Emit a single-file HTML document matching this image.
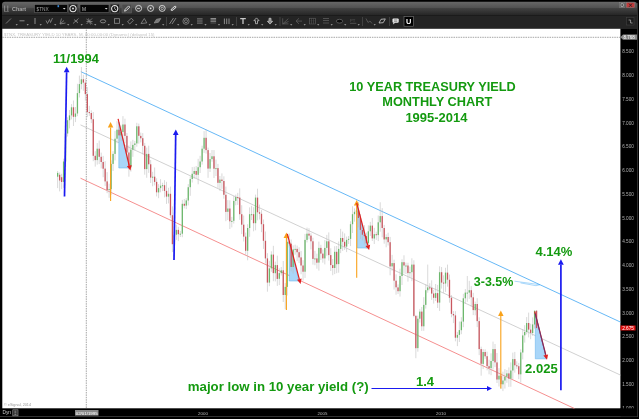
<!DOCTYPE html>
<html><head><meta charset="utf-8"><title>10 Year Treasury Yield Monthly Chart</title>
<style>html,body{margin:0;padding:0;background:#000;}body{width:639px;height:419px;overflow:hidden;position:relative;font-family:"Liberation Sans",Arial,sans-serif}</style>
</head><body>
<svg width="639" height="419" viewBox="0 0 639 419" style="position:absolute;left:0;top:0">
<defs>
<linearGradient id="tb" x1="0" y1="0" x2="0" y2="1"><stop offset="0" stop-color="#686868"/><stop offset="0.43" stop-color="#525252"/><stop offset="0.47" stop-color="#424242"/><stop offset="1" stop-color="#252525"/></linearGradient>
</defs>
<rect x="0" y="0" width="639" height="419" fill="#000"/>
<path d="M2 15.3 L2 4.7 Q2 1.7 5 1.7 L634 1.7 Q637 1.7 637 4.7 L637 15.3 Z" fill="url(#tb)"/>
<rect x="2" y="15.3" width="635" height="13.7" fill="#242424"/>
<rect x="2.3" y="28.8" width="618.1" height="379.5" fill="#fff"/>
<rect x="0" y="416.3" width="637.8" height="0.7" fill="#4a4a4a"/>
<rect x="637.2" y="3" width="0.7" height="414" fill="#444"/>
<line x1="2.3" y1="37.3" x2="620" y2="37.3" stroke="#6a6a6a" stroke-width="0.6" stroke-dasharray="1.5 0.9"/>
<line x1="86.3" y1="29.6" x2="86.3" y2="408.5" stroke="#6a6a6a" stroke-width="0.6" stroke-dasharray="1.5 0.9"/>
<line x1="80.9" y1="71.7" x2="620.5" y2="322.1" stroke="#55b0f5" stroke-width="0.9"/>
<line x1="80.5" y1="124.9" x2="620.5" y2="375.1" stroke="#bdbdbd" stroke-width="0.7"/>
<line x1="80.5" y1="178.2" x2="574.4" y2="408.5" stroke="#f26a6a" stroke-width="0.75"/>
<polygon points="118.8,122 118.8,168 129.8,168" fill="#a9d6f9" stroke="#5aaeea" stroke-width="0.5"/>
<polygon points="289.2,241 289.2,281 299,281" fill="#a9d6f9" stroke="#5aaeea" stroke-width="0.5"/>
<polygon points="357.4,206 357.4,248 368,248" fill="#a9d6f9" stroke="#5aaeea" stroke-width="0.5"/>
<polygon points="535.3,314 535.3,358.8 546.3,358.8" fill="#a9d6f9" stroke="#5aaeea" stroke-width="0.5"/>
<line x1="57.65" y1="171.0" x2="57.65" y2="188.1" stroke="#c0c0c0" stroke-width="0.6"/>
<rect x="57.00" y="172.9" width="1.3" height="3.8" fill="#6db86d"/>
<line x1="59.63" y1="172.4" x2="59.63" y2="191.4" stroke="#c0c0c0" stroke-width="0.6"/>
<rect x="58.98" y="174.8" width="1.3" height="5.7" fill="#c9575f"/>
<line x1="61.61" y1="173.8" x2="61.61" y2="189.1" stroke="#c0c0c0" stroke-width="0.6"/>
<rect x="60.96" y="177.2" width="1.3" height="4.8" fill="#c9575f"/>
<line x1="63.59" y1="158.7" x2="63.59" y2="187.9" stroke="#c0c0c0" stroke-width="0.6"/>
<rect x="62.94" y="161.5" width="1.3" height="20.4" fill="#6db86d"/>
<line x1="65.57" y1="130.8" x2="65.57" y2="167.0" stroke="#c0c0c0" stroke-width="0.6"/>
<rect x="64.92" y="133.5" width="1.3" height="28.0" fill="#6db86d"/>
<line x1="67.55" y1="117.3" x2="67.55" y2="136.5" stroke="#c0c0c0" stroke-width="0.6"/>
<rect x="66.90" y="120.2" width="1.3" height="13.3" fill="#6db86d"/>
<line x1="69.53" y1="110.0" x2="69.53" y2="128.4" stroke="#c0c0c0" stroke-width="0.6"/>
<rect x="68.88" y="115.4" width="1.3" height="4.8" fill="#6db86d"/>
<line x1="71.51" y1="104.1" x2="71.51" y2="119.4" stroke="#c0c0c0" stroke-width="0.6"/>
<rect x="70.86" y="107.3" width="1.3" height="8.1" fill="#6db86d"/>
<line x1="73.48" y1="100.5" x2="73.48" y2="126.0" stroke="#c0c0c0" stroke-width="0.6"/>
<rect x="72.83" y="107.3" width="1.3" height="9.5" fill="#c9575f"/>
<line x1="75.46" y1="107.0" x2="75.46" y2="122.1" stroke="#c0c0c0" stroke-width="0.6"/>
<rect x="74.81" y="113.5" width="1.3" height="3.3" fill="#6db86d"/>
<line x1="77.44" y1="83.8" x2="77.44" y2="116.2" stroke="#c0c0c0" stroke-width="0.6"/>
<rect x="76.79" y="93.1" width="1.3" height="20.4" fill="#6db86d"/>
<line x1="79.42" y1="75.6" x2="79.42" y2="97.5" stroke="#c0c0c0" stroke-width="0.6"/>
<rect x="78.77" y="84.1" width="1.3" height="9.0" fill="#6db86d"/>
<line x1="81.40" y1="67.0" x2="81.40" y2="89.3" stroke="#c0c0c0" stroke-width="0.6"/>
<rect x="80.75" y="79.3" width="1.3" height="4.8" fill="#6db86d"/>
<line x1="83.38" y1="74.8" x2="83.38" y2="90.8" stroke="#c0c0c0" stroke-width="0.6"/>
<rect x="82.73" y="79.3" width="1.3" height="3.3" fill="#c9575f"/>
<line x1="85.36" y1="79.0" x2="85.36" y2="100.6" stroke="#c0c0c0" stroke-width="0.6"/>
<rect x="84.71" y="82.7" width="1.3" height="11.4" fill="#c9575f"/>
<line x1="87.34" y1="87.1" x2="87.34" y2="117.1" stroke="#c0c0c0" stroke-width="0.6"/>
<rect x="86.69" y="94.1" width="1.3" height="18.0" fill="#c9575f"/>
<line x1="89.32" y1="105.8" x2="89.32" y2="115.9" stroke="#c0c0c0" stroke-width="0.6"/>
<rect x="88.67" y="112.1" width="1.3" height="1.0" fill="#c9575f"/>
<line x1="91.30" y1="110.3" x2="91.30" y2="123.1" stroke="#c0c0c0" stroke-width="0.6"/>
<rect x="90.64" y="113.0" width="1.3" height="6.2" fill="#c9575f"/>
<line x1="93.27" y1="112.0" x2="93.27" y2="161.2" stroke="#c0c0c0" stroke-width="0.6"/>
<rect x="92.62" y="119.2" width="1.3" height="36.6" fill="#c9575f"/>
<line x1="95.25" y1="151.2" x2="95.25" y2="166.6" stroke="#c0c0c0" stroke-width="0.6"/>
<rect x="94.60" y="155.8" width="1.3" height="4.3" fill="#c9575f"/>
<line x1="97.23" y1="143.1" x2="97.23" y2="164.6" stroke="#c0c0c0" stroke-width="0.6"/>
<rect x="96.58" y="148.7" width="1.3" height="11.4" fill="#6db86d"/>
<line x1="99.21" y1="140.6" x2="99.21" y2="164.1" stroke="#c0c0c0" stroke-width="0.6"/>
<rect x="98.56" y="148.7" width="1.3" height="8.1" fill="#c9575f"/>
<line x1="101.19" y1="152.6" x2="101.19" y2="168.4" stroke="#c0c0c0" stroke-width="0.6"/>
<rect x="100.54" y="156.8" width="1.3" height="5.2" fill="#c9575f"/>
<line x1="103.17" y1="155.9" x2="103.17" y2="177.2" stroke="#c0c0c0" stroke-width="0.6"/>
<rect x="102.52" y="162.0" width="1.3" height="6.7" fill="#c9575f"/>
<line x1="105.15" y1="161.1" x2="105.15" y2="185.9" stroke="#c0c0c0" stroke-width="0.6"/>
<rect x="104.50" y="168.6" width="1.3" height="12.8" fill="#c9575f"/>
<line x1="107.13" y1="172.1" x2="107.13" y2="193.2" stroke="#c0c0c0" stroke-width="0.6"/>
<rect x="106.48" y="181.4" width="1.3" height="8.6" fill="#c9575f"/>
<line x1="109.11" y1="183.7" x2="109.11" y2="197.8" stroke="#c0c0c0" stroke-width="0.6"/>
<rect x="108.46" y="189.1" width="1.3" height="1.0" fill="#6db86d"/>
<line x1="111.09" y1="160.4" x2="111.09" y2="194.9" stroke="#c0c0c0" stroke-width="0.6"/>
<rect x="110.44" y="163.9" width="1.3" height="25.2" fill="#6db86d"/>
<line x1="113.06" y1="151.2" x2="113.06" y2="171.0" stroke="#c0c0c0" stroke-width="0.6"/>
<rect x="112.41" y="153.9" width="1.3" height="10.0" fill="#6db86d"/>
<line x1="115.04" y1="130.9" x2="115.04" y2="160.4" stroke="#c0c0c0" stroke-width="0.6"/>
<rect x="114.39" y="138.7" width="1.3" height="15.2" fill="#6db86d"/>
<line x1="117.02" y1="121.1" x2="117.02" y2="143.3" stroke="#c0c0c0" stroke-width="0.6"/>
<rect x="116.37" y="129.7" width="1.3" height="9.0" fill="#6db86d"/>
<line x1="119.00" y1="122.3" x2="119.00" y2="142.0" stroke="#c0c0c0" stroke-width="0.6"/>
<rect x="118.35" y="129.7" width="1.3" height="5.7" fill="#c9575f"/>
<line x1="120.98" y1="125.5" x2="120.98" y2="141.0" stroke="#c0c0c0" stroke-width="0.6"/>
<rect x="120.33" y="132.1" width="1.3" height="3.3" fill="#6db86d"/>
<line x1="122.96" y1="116.1" x2="122.96" y2="141.2" stroke="#c0c0c0" stroke-width="0.6"/>
<rect x="122.31" y="124.5" width="1.3" height="7.6" fill="#6db86d"/>
<line x1="124.94" y1="118.7" x2="124.94" y2="143.0" stroke="#c0c0c0" stroke-width="0.6"/>
<rect x="124.29" y="124.5" width="1.3" height="11.4" fill="#c9575f"/>
<line x1="126.92" y1="133.0" x2="126.92" y2="159.8" stroke="#c0c0c0" stroke-width="0.6"/>
<rect x="126.27" y="135.9" width="1.3" height="16.6" fill="#c9575f"/>
<line x1="128.90" y1="145.5" x2="128.90" y2="176.7" stroke="#c0c0c0" stroke-width="0.6"/>
<rect x="128.25" y="152.5" width="1.3" height="14.7" fill="#c9575f"/>
<line x1="130.88" y1="141.4" x2="130.88" y2="171.6" stroke="#c0c0c0" stroke-width="0.6"/>
<rect x="130.22" y="149.6" width="1.3" height="17.6" fill="#6db86d"/>
<line x1="132.85" y1="139.8" x2="132.85" y2="156.8" stroke="#c0c0c0" stroke-width="0.6"/>
<rect x="132.20" y="144.9" width="1.3" height="4.8" fill="#6db86d"/>
<line x1="134.83" y1="140.9" x2="134.83" y2="150.5" stroke="#c0c0c0" stroke-width="0.6"/>
<rect x="134.18" y="143.5" width="1.3" height="1.4" fill="#6db86d"/>
<line x1="136.81" y1="122.8" x2="136.81" y2="146.7" stroke="#c0c0c0" stroke-width="0.6"/>
<rect x="136.16" y="126.3" width="1.3" height="17.1" fill="#6db86d"/>
<line x1="138.79" y1="123.6" x2="138.79" y2="143.7" stroke="#c0c0c0" stroke-width="0.6"/>
<rect x="138.14" y="126.3" width="1.3" height="9.5" fill="#c9575f"/>
<line x1="140.77" y1="132.6" x2="140.77" y2="142.4" stroke="#c0c0c0" stroke-width="0.6"/>
<rect x="140.12" y="135.9" width="1.3" height="2.4" fill="#c9575f"/>
<line x1="142.75" y1="133.1" x2="142.75" y2="154.4" stroke="#c0c0c0" stroke-width="0.6"/>
<rect x="142.10" y="138.2" width="1.3" height="7.6" fill="#c9575f"/>
<line x1="144.73" y1="142.9" x2="144.73" y2="174.7" stroke="#c0c0c0" stroke-width="0.6"/>
<rect x="144.08" y="145.8" width="1.3" height="23.3" fill="#c9575f"/>
<line x1="146.71" y1="147.6" x2="146.71" y2="177.8" stroke="#c0c0c0" stroke-width="0.6"/>
<rect x="146.06" y="153.9" width="1.3" height="15.2" fill="#6db86d"/>
<line x1="148.69" y1="145.7" x2="148.69" y2="172.9" stroke="#c0c0c0" stroke-width="0.6"/>
<rect x="148.04" y="153.9" width="1.3" height="10.4" fill="#c9575f"/>
<line x1="150.67" y1="160.0" x2="150.67" y2="183.0" stroke="#c0c0c0" stroke-width="0.6"/>
<rect x="150.02" y="164.3" width="1.3" height="13.3" fill="#c9575f"/>
<line x1="152.64" y1="171.8" x2="152.64" y2="186.3" stroke="#c0c0c0" stroke-width="0.6"/>
<rect x="151.99" y="176.7" width="1.3" height="1.0" fill="#6db86d"/>
<line x1="154.62" y1="167.5" x2="154.62" y2="185.4" stroke="#c0c0c0" stroke-width="0.6"/>
<rect x="153.97" y="176.7" width="1.3" height="5.2" fill="#c9575f"/>
<line x1="156.60" y1="178.3" x2="156.60" y2="196.4" stroke="#c0c0c0" stroke-width="0.6"/>
<rect x="155.95" y="181.9" width="1.3" height="10.4" fill="#c9575f"/>
<line x1="158.58" y1="184.1" x2="158.58" y2="198.2" stroke="#c0c0c0" stroke-width="0.6"/>
<rect x="157.93" y="188.1" width="1.3" height="4.3" fill="#6db86d"/>
<line x1="160.56" y1="179.2" x2="160.56" y2="192.3" stroke="#c0c0c0" stroke-width="0.6"/>
<rect x="159.91" y="185.7" width="1.3" height="2.4" fill="#6db86d"/>
<line x1="162.54" y1="182.8" x2="162.54" y2="191.1" stroke="#c0c0c0" stroke-width="0.6"/>
<rect x="161.89" y="185.2" width="1.3" height="1.0" fill="#6db86d"/>
<line x1="164.52" y1="180.2" x2="164.52" y2="197.4" stroke="#c0c0c0" stroke-width="0.6"/>
<rect x="163.87" y="185.2" width="1.3" height="5.7" fill="#c9575f"/>
<line x1="166.50" y1="181.8" x2="166.50" y2="203.9" stroke="#c0c0c0" stroke-width="0.6"/>
<rect x="165.85" y="190.9" width="1.3" height="5.7" fill="#c9575f"/>
<line x1="168.48" y1="187.8" x2="168.48" y2="203.4" stroke="#c0c0c0" stroke-width="0.6"/>
<rect x="167.83" y="193.8" width="1.3" height="2.8" fill="#6db86d"/>
<line x1="170.46" y1="186.6" x2="170.46" y2="217.9" stroke="#c0c0c0" stroke-width="0.6"/>
<rect x="169.81" y="193.8" width="1.3" height="21.4" fill="#c9575f"/>
<line x1="172.43" y1="206.4" x2="172.43" y2="252.1" stroke="#c0c0c0" stroke-width="0.6"/>
<rect x="171.78" y="215.2" width="1.3" height="29.0" fill="#c9575f"/>
<line x1="174.41" y1="219.9" x2="174.41" y2="257.4" stroke="#c0c0c0" stroke-width="0.6"/>
<rect x="173.76" y="234.7" width="1.3" height="9.5" fill="#6db86d"/>
<line x1="176.39" y1="224.7" x2="176.39" y2="239.9" stroke="#c0c0c0" stroke-width="0.6"/>
<rect x="175.74" y="229.9" width="1.3" height="4.8" fill="#6db86d"/>
<line x1="178.37" y1="226.8" x2="178.37" y2="241.1" stroke="#c0c0c0" stroke-width="0.6"/>
<rect x="177.72" y="229.9" width="1.3" height="4.3" fill="#c9575f"/>
<line x1="180.35" y1="230.9" x2="180.35" y2="237.0" stroke="#c0c0c0" stroke-width="0.6"/>
<rect x="179.70" y="233.7" width="1.3" height="1.0" fill="#6db86d"/>
<line x1="182.33" y1="199.9" x2="182.33" y2="237.2" stroke="#c0c0c0" stroke-width="0.6"/>
<rect x="181.68" y="203.8" width="1.3" height="29.9" fill="#6db86d"/>
<line x1="184.31" y1="199.0" x2="184.31" y2="208.4" stroke="#c0c0c0" stroke-width="0.6"/>
<rect x="183.66" y="203.8" width="1.3" height="1.9" fill="#c9575f"/>
<line x1="186.29" y1="198.1" x2="186.29" y2="209.1" stroke="#c0c0c0" stroke-width="0.6"/>
<rect x="185.64" y="200.4" width="1.3" height="5.2" fill="#6db86d"/>
<line x1="188.27" y1="184.1" x2="188.27" y2="205.4" stroke="#c0c0c0" stroke-width="0.6"/>
<rect x="187.62" y="187.2" width="1.3" height="13.3" fill="#6db86d"/>
<line x1="190.25" y1="176.5" x2="190.25" y2="195.8" stroke="#c0c0c0" stroke-width="0.6"/>
<rect x="189.59" y="179.1" width="1.3" height="8.1" fill="#6db86d"/>
<line x1="192.22" y1="167.1" x2="192.22" y2="182.5" stroke="#c0c0c0" stroke-width="0.6"/>
<rect x="191.57" y="173.8" width="1.3" height="5.2" fill="#6db86d"/>
<line x1="194.20" y1="166.8" x2="194.20" y2="178.7" stroke="#c0c0c0" stroke-width="0.6"/>
<rect x="193.55" y="171.0" width="1.3" height="2.9" fill="#6db86d"/>
<line x1="196.18" y1="166.0" x2="196.18" y2="178.1" stroke="#c0c0c0" stroke-width="0.6"/>
<rect x="195.53" y="171.0" width="1.3" height="3.8" fill="#c9575f"/>
<line x1="198.16" y1="158.8" x2="198.16" y2="184.3" stroke="#c0c0c0" stroke-width="0.6"/>
<rect x="197.51" y="167.2" width="1.3" height="7.6" fill="#6db86d"/>
<line x1="200.14" y1="155.8" x2="200.14" y2="173.0" stroke="#c0c0c0" stroke-width="0.6"/>
<rect x="199.49" y="161.5" width="1.3" height="5.7" fill="#6db86d"/>
<line x1="202.12" y1="145.7" x2="202.12" y2="164.6" stroke="#c0c0c0" stroke-width="0.6"/>
<rect x="201.47" y="148.7" width="1.3" height="12.8" fill="#6db86d"/>
<line x1="204.10" y1="131.1" x2="204.10" y2="152.9" stroke="#c0c0c0" stroke-width="0.6"/>
<rect x="203.45" y="137.8" width="1.3" height="10.9" fill="#6db86d"/>
<line x1="206.08" y1="129.5" x2="206.08" y2="153.6" stroke="#c0c0c0" stroke-width="0.6"/>
<rect x="205.43" y="137.8" width="1.3" height="12.3" fill="#c9575f"/>
<line x1="208.06" y1="147.6" x2="208.06" y2="177.8" stroke="#c0c0c0" stroke-width="0.6"/>
<rect x="207.41" y="150.1" width="1.3" height="18.5" fill="#c9575f"/>
<line x1="210.04" y1="153.0" x2="210.04" y2="172.0" stroke="#c0c0c0" stroke-width="0.6"/>
<rect x="209.39" y="159.1" width="1.3" height="9.5" fill="#6db86d"/>
<line x1="212.01" y1="150.0" x2="212.01" y2="161.7" stroke="#c0c0c0" stroke-width="0.6"/>
<rect x="211.36" y="156.3" width="1.3" height="2.8" fill="#6db86d"/>
<line x1="213.99" y1="150.1" x2="213.99" y2="178.0" stroke="#c0c0c0" stroke-width="0.6"/>
<rect x="213.34" y="156.3" width="1.3" height="12.4" fill="#c9575f"/>
<line x1="215.97" y1="159.6" x2="215.97" y2="176.0" stroke="#c0c0c0" stroke-width="0.6"/>
<rect x="215.32" y="168.1" width="1.3" height="1.0" fill="#6db86d"/>
<line x1="217.95" y1="163.9" x2="217.95" y2="187.9" stroke="#c0c0c0" stroke-width="0.6"/>
<rect x="217.30" y="168.1" width="1.3" height="14.7" fill="#c9575f"/>
<line x1="219.93" y1="176.0" x2="219.93" y2="190.8" stroke="#c0c0c0" stroke-width="0.6"/>
<rect x="219.28" y="179.6" width="1.3" height="3.3" fill="#6db86d"/>
<line x1="221.91" y1="173.4" x2="221.91" y2="188.9" stroke="#c0c0c0" stroke-width="0.6"/>
<rect x="221.26" y="179.6" width="1.3" height="1.4" fill="#c9575f"/>
<line x1="223.89" y1="176.3" x2="223.89" y2="198.7" stroke="#c0c0c0" stroke-width="0.6"/>
<rect x="223.24" y="181.0" width="1.3" height="13.8" fill="#c9575f"/>
<line x1="225.87" y1="186.6" x2="225.87" y2="221.2" stroke="#c0c0c0" stroke-width="0.6"/>
<rect x="225.22" y="194.8" width="1.3" height="17.1" fill="#c9575f"/>
<line x1="227.85" y1="200.1" x2="227.85" y2="220.0" stroke="#c0c0c0" stroke-width="0.6"/>
<rect x="227.20" y="208.5" width="1.3" height="3.3" fill="#6db86d"/>
<line x1="229.83" y1="200.3" x2="229.83" y2="229.0" stroke="#c0c0c0" stroke-width="0.6"/>
<rect x="229.18" y="208.5" width="1.3" height="12.8" fill="#c9575f"/>
<line x1="231.80" y1="216.9" x2="231.80" y2="227.4" stroke="#c0c0c0" stroke-width="0.6"/>
<rect x="231.15" y="220.9" width="1.3" height="1.0" fill="#6db86d"/>
<line x1="233.78" y1="196.0" x2="233.78" y2="223.5" stroke="#c0c0c0" stroke-width="0.6"/>
<rect x="233.13" y="200.9" width="1.3" height="19.9" fill="#6db86d"/>
<line x1="235.76" y1="194.6" x2="235.76" y2="205.3" stroke="#c0c0c0" stroke-width="0.6"/>
<rect x="235.11" y="197.1" width="1.3" height="3.8" fill="#6db86d"/>
<line x1="237.74" y1="192.9" x2="237.74" y2="204.9" stroke="#c0c0c0" stroke-width="0.6"/>
<rect x="237.09" y="197.1" width="1.3" height="1.0" fill="#c9575f"/>
<line x1="239.72" y1="188.4" x2="239.72" y2="219.8" stroke="#c0c0c0" stroke-width="0.6"/>
<rect x="239.07" y="197.6" width="1.3" height="16.6" fill="#c9575f"/>
<line x1="241.70" y1="205.2" x2="241.70" y2="234.1" stroke="#c0c0c0" stroke-width="0.6"/>
<rect x="241.05" y="214.2" width="1.3" height="10.5" fill="#c9575f"/>
<line x1="243.68" y1="215.5" x2="243.68" y2="241.5" stroke="#c0c0c0" stroke-width="0.6"/>
<rect x="243.03" y="224.7" width="1.3" height="11.9" fill="#c9575f"/>
<line x1="245.66" y1="232.6" x2="245.66" y2="254.8" stroke="#c0c0c0" stroke-width="0.6"/>
<rect x="245.01" y="236.6" width="1.3" height="14.2" fill="#c9575f"/>
<line x1="247.64" y1="224.2" x2="247.64" y2="260.3" stroke="#c0c0c0" stroke-width="0.6"/>
<rect x="246.99" y="228.0" width="1.3" height="22.8" fill="#6db86d"/>
<line x1="249.62" y1="207.4" x2="249.62" y2="236.8" stroke="#c0c0c0" stroke-width="0.6"/>
<rect x="248.97" y="214.2" width="1.3" height="13.8" fill="#6db86d"/>
<line x1="251.59" y1="205.9" x2="251.59" y2="220.0" stroke="#c0c0c0" stroke-width="0.6"/>
<rect x="250.94" y="214.2" width="1.3" height="1.0" fill="#6db86d"/>
<line x1="253.57" y1="207.2" x2="253.57" y2="231.3" stroke="#c0c0c0" stroke-width="0.6"/>
<rect x="252.92" y="214.2" width="1.3" height="9.0" fill="#c9575f"/>
<line x1="255.55" y1="194.6" x2="255.55" y2="230.3" stroke="#c0c0c0" stroke-width="0.6"/>
<rect x="254.90" y="197.6" width="1.3" height="25.6" fill="#6db86d"/>
<line x1="257.53" y1="188.7" x2="257.53" y2="220.3" stroke="#c0c0c0" stroke-width="0.6"/>
<rect x="256.88" y="197.6" width="1.3" height="14.7" fill="#c9575f"/>
<line x1="259.51" y1="204.6" x2="259.51" y2="219.5" stroke="#c0c0c0" stroke-width="0.6"/>
<rect x="258.86" y="212.3" width="1.3" height="1.4" fill="#c9575f"/>
<line x1="261.49" y1="210.1" x2="261.49" y2="232.2" stroke="#c0c0c0" stroke-width="0.6"/>
<rect x="260.84" y="213.8" width="1.3" height="10.4" fill="#c9575f"/>
<line x1="263.47" y1="219.5" x2="263.47" y2="248.9" stroke="#c0c0c0" stroke-width="0.6"/>
<rect x="262.82" y="224.2" width="1.3" height="16.6" fill="#c9575f"/>
<line x1="265.45" y1="231.5" x2="265.45" y2="263.6" stroke="#c0c0c0" stroke-width="0.6"/>
<rect x="264.80" y="240.8" width="1.3" height="17.6" fill="#c9575f"/>
<line x1="267.43" y1="253.2" x2="267.43" y2="291.7" stroke="#c0c0c0" stroke-width="0.6"/>
<rect x="266.78" y="258.4" width="1.3" height="24.2" fill="#c9575f"/>
<line x1="269.40" y1="260.8" x2="269.40" y2="286.2" stroke="#c0c0c0" stroke-width="0.6"/>
<rect x="268.75" y="268.4" width="1.3" height="14.2" fill="#6db86d"/>
<line x1="271.38" y1="251.3" x2="271.38" y2="271.8" stroke="#c0c0c0" stroke-width="0.6"/>
<rect x="270.73" y="254.6" width="1.3" height="13.8" fill="#6db86d"/>
<line x1="273.36" y1="245.8" x2="273.36" y2="281.2" stroke="#c0c0c0" stroke-width="0.6"/>
<rect x="272.71" y="254.6" width="1.3" height="18.5" fill="#c9575f"/>
<line x1="275.34" y1="261.6" x2="275.34" y2="281.4" stroke="#c0c0c0" stroke-width="0.6"/>
<rect x="274.69" y="265.1" width="1.3" height="8.1" fill="#6db86d"/>
<line x1="277.32" y1="255.7" x2="277.32" y2="285.9" stroke="#c0c0c0" stroke-width="0.6"/>
<rect x="276.67" y="265.1" width="1.3" height="13.8" fill="#c9575f"/>
<line x1="279.30" y1="268.3" x2="279.30" y2="285.1" stroke="#c0c0c0" stroke-width="0.6"/>
<rect x="278.65" y="273.1" width="1.3" height="5.7" fill="#6db86d"/>
<line x1="281.28" y1="267.0" x2="281.28" y2="275.6" stroke="#c0c0c0" stroke-width="0.6"/>
<rect x="280.63" y="270.3" width="1.3" height="2.9" fill="#6db86d"/>
<line x1="283.26" y1="261.0" x2="283.26" y2="302.0" stroke="#c0c0c0" stroke-width="0.6"/>
<rect x="282.61" y="270.3" width="1.3" height="24.7" fill="#c9575f"/>
<line x1="285.24" y1="283.1" x2="285.24" y2="309.2" stroke="#c0c0c0" stroke-width="0.6"/>
<rect x="284.59" y="286.9" width="1.3" height="8.1" fill="#6db86d"/>
<line x1="287.22" y1="236.6" x2="287.22" y2="295.5" stroke="#c0c0c0" stroke-width="0.6"/>
<rect x="286.57" y="241.8" width="1.3" height="45.1" fill="#6db86d"/>
<line x1="289.20" y1="233.5" x2="289.20" y2="247.6" stroke="#c0c0c0" stroke-width="0.6"/>
<rect x="288.55" y="241.8" width="1.3" height="1.9" fill="#c9575f"/>
<line x1="291.17" y1="239.5" x2="291.17" y2="271.4" stroke="#c0c0c0" stroke-width="0.6"/>
<rect x="290.52" y="243.7" width="1.3" height="23.3" fill="#c9575f"/>
<line x1="293.15" y1="245.3" x2="293.15" y2="273.5" stroke="#c0c0c0" stroke-width="0.6"/>
<rect x="292.50" y="249.4" width="1.3" height="17.6" fill="#6db86d"/>
<line x1="295.13" y1="244.7" x2="295.13" y2="254.7" stroke="#c0c0c0" stroke-width="0.6"/>
<rect x="294.48" y="248.9" width="1.3" height="1.0" fill="#6db86d"/>
<line x1="297.11" y1="245.6" x2="297.11" y2="261.1" stroke="#c0c0c0" stroke-width="0.6"/>
<rect x="296.46" y="248.9" width="1.3" height="3.3" fill="#c9575f"/>
<line x1="299.09" y1="247.3" x2="299.09" y2="263.1" stroke="#c0c0c0" stroke-width="0.6"/>
<rect x="298.44" y="252.2" width="1.3" height="5.2" fill="#c9575f"/>
<line x1="301.07" y1="250.9" x2="301.07" y2="274.3" stroke="#c0c0c0" stroke-width="0.6"/>
<rect x="300.42" y="257.4" width="1.3" height="8.1" fill="#c9575f"/>
<line x1="303.05" y1="260.2" x2="303.05" y2="280.6" stroke="#c0c0c0" stroke-width="0.6"/>
<rect x="302.40" y="265.5" width="1.3" height="6.2" fill="#c9575f"/>
<line x1="305.03" y1="233.9" x2="305.03" y2="277.9" stroke="#c0c0c0" stroke-width="0.6"/>
<rect x="304.38" y="239.9" width="1.3" height="31.8" fill="#6db86d"/>
<line x1="307.01" y1="227.6" x2="307.01" y2="242.4" stroke="#c0c0c0" stroke-width="0.6"/>
<rect x="306.36" y="233.7" width="1.3" height="6.2" fill="#6db86d"/>
<line x1="308.99" y1="228.2" x2="308.99" y2="239.3" stroke="#c0c0c0" stroke-width="0.6"/>
<rect x="308.34" y="233.7" width="1.3" height="1.9" fill="#c9575f"/>
<line x1="310.96" y1="233.2" x2="310.96" y2="249.4" stroke="#c0c0c0" stroke-width="0.6"/>
<rect x="310.31" y="235.6" width="1.3" height="5.7" fill="#c9575f"/>
<line x1="312.94" y1="237.7" x2="312.94" y2="264.6" stroke="#c0c0c0" stroke-width="0.6"/>
<rect x="312.29" y="241.3" width="1.3" height="17.6" fill="#c9575f"/>
<line x1="314.92" y1="250.9" x2="314.92" y2="265.2" stroke="#c0c0c0" stroke-width="0.6"/>
<rect x="314.27" y="258.4" width="1.3" height="1.0" fill="#6db86d"/>
<line x1="316.90" y1="253.7" x2="316.90" y2="268.7" stroke="#c0c0c0" stroke-width="0.6"/>
<rect x="316.25" y="258.4" width="1.3" height="4.3" fill="#c9575f"/>
<line x1="318.88" y1="241.6" x2="318.88" y2="270.6" stroke="#c0c0c0" stroke-width="0.6"/>
<rect x="318.23" y="247.9" width="1.3" height="14.7" fill="#6db86d"/>
<line x1="320.86" y1="244.8" x2="320.86" y2="260.0" stroke="#c0c0c0" stroke-width="0.6"/>
<rect x="320.21" y="247.9" width="1.3" height="5.7" fill="#c9575f"/>
<line x1="322.84" y1="249.5" x2="322.84" y2="262.7" stroke="#c0c0c0" stroke-width="0.6"/>
<rect x="322.19" y="253.6" width="1.3" height="4.8" fill="#c9575f"/>
<line x1="324.82" y1="240.1" x2="324.82" y2="264.4" stroke="#c0c0c0" stroke-width="0.6"/>
<rect x="324.17" y="247.9" width="1.3" height="10.5" fill="#6db86d"/>
<line x1="326.80" y1="234.9" x2="326.80" y2="255.7" stroke="#c0c0c0" stroke-width="0.6"/>
<rect x="326.15" y="241.3" width="1.3" height="6.6" fill="#6db86d"/>
<line x1="328.77" y1="232.4" x2="328.77" y2="260.6" stroke="#c0c0c0" stroke-width="0.6"/>
<rect x="328.12" y="241.3" width="1.3" height="13.8" fill="#c9575f"/>
<line x1="330.75" y1="248.3" x2="330.75" y2="271.0" stroke="#c0c0c0" stroke-width="0.6"/>
<rect x="330.10" y="255.1" width="1.3" height="10.0" fill="#c9575f"/>
<line x1="332.73" y1="259.0" x2="332.73" y2="275.2" stroke="#c0c0c0" stroke-width="0.6"/>
<rect x="332.08" y="265.1" width="1.3" height="2.9" fill="#c9575f"/>
<line x1="334.71" y1="246.2" x2="334.71" y2="274.1" stroke="#c0c0c0" stroke-width="0.6"/>
<rect x="334.06" y="251.8" width="1.3" height="16.2" fill="#6db86d"/>
<line x1="336.69" y1="246.0" x2="336.69" y2="273.2" stroke="#c0c0c0" stroke-width="0.6"/>
<rect x="336.04" y="251.8" width="1.3" height="12.4" fill="#c9575f"/>
<line x1="338.67" y1="241.5" x2="338.67" y2="272.7" stroke="#c0c0c0" stroke-width="0.6"/>
<rect x="338.02" y="248.9" width="1.3" height="15.2" fill="#6db86d"/>
<line x1="340.65" y1="228.9" x2="340.65" y2="253.1" stroke="#c0c0c0" stroke-width="0.6"/>
<rect x="340.00" y="238.0" width="1.3" height="10.9" fill="#6db86d"/>
<line x1="342.63" y1="231.6" x2="342.63" y2="250.9" stroke="#c0c0c0" stroke-width="0.6"/>
<rect x="341.98" y="238.0" width="1.3" height="3.8" fill="#c9575f"/>
<line x1="344.61" y1="233.4" x2="344.61" y2="249.9" stroke="#c0c0c0" stroke-width="0.6"/>
<rect x="343.96" y="241.8" width="1.3" height="4.8" fill="#c9575f"/>
<line x1="346.59" y1="236.6" x2="346.59" y2="252.1" stroke="#c0c0c0" stroke-width="0.6"/>
<rect x="345.94" y="239.9" width="1.3" height="6.7" fill="#6db86d"/>
<line x1="348.57" y1="236.0" x2="348.57" y2="244.0" stroke="#c0c0c0" stroke-width="0.6"/>
<rect x="347.92" y="238.9" width="1.3" height="1.0" fill="#6db86d"/>
<line x1="350.54" y1="221.3" x2="350.54" y2="246.1" stroke="#c0c0c0" stroke-width="0.6"/>
<rect x="349.89" y="224.2" width="1.3" height="14.7" fill="#6db86d"/>
<line x1="352.52" y1="206.3" x2="352.52" y2="233.0" stroke="#c0c0c0" stroke-width="0.6"/>
<rect x="351.87" y="214.2" width="1.3" height="10.0" fill="#6db86d"/>
<line x1="354.50" y1="208.4" x2="354.50" y2="221.7" stroke="#c0c0c0" stroke-width="0.6"/>
<rect x="353.85" y="211.8" width="1.3" height="2.4" fill="#6db86d"/>
<line x1="356.48" y1="203.3" x2="356.48" y2="215.2" stroke="#c0c0c0" stroke-width="0.6"/>
<rect x="355.83" y="210.4" width="1.3" height="1.4" fill="#6db86d"/>
<line x1="358.46" y1="201.8" x2="358.46" y2="227.3" stroke="#c0c0c0" stroke-width="0.6"/>
<rect x="357.81" y="210.4" width="1.3" height="7.6" fill="#c9575f"/>
<line x1="360.44" y1="214.1" x2="360.44" y2="239.1" stroke="#c0c0c0" stroke-width="0.6"/>
<rect x="359.79" y="218.0" width="1.3" height="11.9" fill="#c9575f"/>
<line x1="362.42" y1="224.7" x2="362.42" y2="240.5" stroke="#c0c0c0" stroke-width="0.6"/>
<rect x="361.77" y="229.9" width="1.3" height="4.8" fill="#c9575f"/>
<line x1="364.40" y1="225.2" x2="364.40" y2="244.4" stroke="#c0c0c0" stroke-width="0.6"/>
<rect x="363.75" y="234.7" width="1.3" height="1.4" fill="#c9575f"/>
<line x1="366.38" y1="232.5" x2="366.38" y2="248.6" stroke="#c0c0c0" stroke-width="0.6"/>
<rect x="365.73" y="236.1" width="1.3" height="7.1" fill="#c9575f"/>
<line x1="368.36" y1="225.3" x2="368.36" y2="248.0" stroke="#c0c0c0" stroke-width="0.6"/>
<rect x="367.71" y="231.3" width="1.3" height="11.9" fill="#6db86d"/>
<line x1="370.33" y1="221.9" x2="370.33" y2="236.0" stroke="#c0c0c0" stroke-width="0.6"/>
<rect x="369.68" y="225.6" width="1.3" height="5.7" fill="#6db86d"/>
<line x1="372.31" y1="218.1" x2="372.31" y2="241.0" stroke="#c0c0c0" stroke-width="0.6"/>
<rect x="371.66" y="225.6" width="1.3" height="12.8" fill="#c9575f"/>
<line x1="374.29" y1="227.9" x2="374.29" y2="244.0" stroke="#c0c0c0" stroke-width="0.6"/>
<rect x="373.64" y="234.2" width="1.3" height="4.3" fill="#6db86d"/>
<line x1="376.27" y1="231.7" x2="376.27" y2="239.9" stroke="#c0c0c0" stroke-width="0.6"/>
<rect x="375.62" y="234.2" width="1.3" height="1.0" fill="#c9575f"/>
<line x1="378.25" y1="215.5" x2="378.25" y2="241.1" stroke="#c0c0c0" stroke-width="0.6"/>
<rect x="377.60" y="222.3" width="1.3" height="12.8" fill="#6db86d"/>
<line x1="380.23" y1="202.3" x2="380.23" y2="231.7" stroke="#c0c0c0" stroke-width="0.6"/>
<rect x="379.58" y="216.1" width="1.3" height="6.2" fill="#6db86d"/>
<line x1="382.21" y1="208.1" x2="382.21" y2="237.3" stroke="#c0c0c0" stroke-width="0.6"/>
<rect x="381.56" y="216.1" width="1.3" height="11.9" fill="#c9575f"/>
<line x1="384.19" y1="224.9" x2="384.19" y2="243.7" stroke="#c0c0c0" stroke-width="0.6"/>
<rect x="383.54" y="228.0" width="1.3" height="11.4" fill="#c9575f"/>
<line x1="386.17" y1="234.4" x2="386.17" y2="247.3" stroke="#c0c0c0" stroke-width="0.6"/>
<rect x="385.52" y="237.0" width="1.3" height="2.4" fill="#6db86d"/>
<line x1="388.14" y1="232.7" x2="388.14" y2="245.5" stroke="#c0c0c0" stroke-width="0.6"/>
<rect x="387.50" y="237.0" width="1.3" height="5.2" fill="#c9575f"/>
<line x1="390.12" y1="236.9" x2="390.12" y2="275.3" stroke="#c0c0c0" stroke-width="0.6"/>
<rect x="389.47" y="242.2" width="1.3" height="24.2" fill="#c9575f"/>
<line x1="392.10" y1="254.9" x2="392.10" y2="270.7" stroke="#c0c0c0" stroke-width="0.6"/>
<rect x="391.45" y="263.1" width="1.3" height="3.3" fill="#6db86d"/>
<line x1="394.08" y1="259.7" x2="394.08" y2="289.6" stroke="#c0c0c0" stroke-width="0.6"/>
<rect x="393.43" y="263.1" width="1.3" height="17.6" fill="#c9575f"/>
<line x1="396.06" y1="274.3" x2="396.06" y2="294.7" stroke="#c0c0c0" stroke-width="0.6"/>
<rect x="395.41" y="280.7" width="1.3" height="6.6" fill="#c9575f"/>
<line x1="398.04" y1="284.4" x2="398.04" y2="294.0" stroke="#c0c0c0" stroke-width="0.6"/>
<rect x="397.39" y="287.4" width="1.3" height="3.8" fill="#c9575f"/>
<line x1="400.02" y1="268.7" x2="400.02" y2="296.6" stroke="#c0c0c0" stroke-width="0.6"/>
<rect x="399.37" y="276.0" width="1.3" height="15.2" fill="#6db86d"/>
<line x1="402.00" y1="259.3" x2="402.00" y2="285.0" stroke="#c0c0c0" stroke-width="0.6"/>
<rect x="401.35" y="262.2" width="1.3" height="13.8" fill="#6db86d"/>
<line x1="403.98" y1="255.3" x2="403.98" y2="273.6" stroke="#c0c0c0" stroke-width="0.6"/>
<rect x="403.33" y="262.2" width="1.3" height="3.3" fill="#c9575f"/>
<line x1="405.96" y1="262.6" x2="405.96" y2="274.0" stroke="#c0c0c0" stroke-width="0.6"/>
<rect x="405.31" y="265.5" width="1.3" height="1.0" fill="#6db86d"/>
<line x1="407.94" y1="262.7" x2="407.94" y2="281.6" stroke="#c0c0c0" stroke-width="0.6"/>
<rect x="407.29" y="265.5" width="1.3" height="7.6" fill="#c9575f"/>
<line x1="409.91" y1="266.6" x2="409.91" y2="277.9" stroke="#c0c0c0" stroke-width="0.6"/>
<rect x="409.26" y="272.2" width="1.3" height="1.0" fill="#6db86d"/>
<line x1="411.89" y1="258.3" x2="411.89" y2="281.2" stroke="#c0c0c0" stroke-width="0.6"/>
<rect x="411.24" y="264.6" width="1.3" height="7.6" fill="#6db86d"/>
<line x1="413.87" y1="260.3" x2="413.87" y2="317.3" stroke="#c0c0c0" stroke-width="0.6"/>
<rect x="413.22" y="264.6" width="1.3" height="51.3" fill="#c9575f"/>
<line x1="415.85" y1="314.9" x2="415.85" y2="358.2" stroke="#c0c0c0" stroke-width="0.6"/>
<rect x="415.20" y="315.9" width="1.3" height="32.3" fill="#c9575f"/>
<line x1="417.83" y1="315.6" x2="417.83" y2="351.7" stroke="#c0c0c0" stroke-width="0.6"/>
<rect x="417.18" y="318.7" width="1.3" height="29.4" fill="#6db86d"/>
<line x1="419.81" y1="308.9" x2="419.81" y2="322.5" stroke="#c0c0c0" stroke-width="0.6"/>
<rect x="419.16" y="311.6" width="1.3" height="7.1" fill="#6db86d"/>
<line x1="421.79" y1="307.0" x2="421.79" y2="330.9" stroke="#c0c0c0" stroke-width="0.6"/>
<rect x="421.14" y="311.6" width="1.3" height="14.7" fill="#c9575f"/>
<line x1="423.77" y1="297.2" x2="423.77" y2="330.8" stroke="#c0c0c0" stroke-width="0.6"/>
<rect x="423.12" y="304.9" width="1.3" height="21.4" fill="#6db86d"/>
<line x1="425.75" y1="284.3" x2="425.75" y2="308.6" stroke="#c0c0c0" stroke-width="0.6"/>
<rect x="425.10" y="290.2" width="1.3" height="14.7" fill="#6db86d"/>
<line x1="427.73" y1="264.6" x2="427.73" y2="292.7" stroke="#c0c0c0" stroke-width="0.6"/>
<rect x="427.08" y="287.4" width="1.3" height="2.8" fill="#6db86d"/>
<line x1="429.70" y1="283.2" x2="429.70" y2="290.3" stroke="#c0c0c0" stroke-width="0.6"/>
<rect x="429.05" y="287.4" width="1.3" height="1.0" fill="#c9575f"/>
<line x1="431.68" y1="280.3" x2="431.68" y2="299.9" stroke="#c0c0c0" stroke-width="0.6"/>
<rect x="431.03" y="287.9" width="1.3" height="5.7" fill="#c9575f"/>
<line x1="433.66" y1="289.8" x2="433.66" y2="303.6" stroke="#c0c0c0" stroke-width="0.6"/>
<rect x="433.01" y="293.5" width="1.3" height="4.3" fill="#c9575f"/>
<line x1="435.64" y1="284.0" x2="435.64" y2="301.0" stroke="#c0c0c0" stroke-width="0.6"/>
<rect x="434.99" y="293.1" width="1.3" height="4.8" fill="#6db86d"/>
<line x1="437.62" y1="284.9" x2="437.62" y2="308.0" stroke="#c0c0c0" stroke-width="0.6"/>
<rect x="436.97" y="293.1" width="1.3" height="9.5" fill="#c9575f"/>
<line x1="439.60" y1="266.3" x2="439.60" y2="310.9" stroke="#c0c0c0" stroke-width="0.6"/>
<rect x="438.95" y="272.2" width="1.3" height="30.4" fill="#6db86d"/>
<line x1="441.58" y1="267.0" x2="441.58" y2="288.6" stroke="#c0c0c0" stroke-width="0.6"/>
<rect x="440.93" y="272.2" width="1.3" height="10.4" fill="#c9575f"/>
<line x1="443.56" y1="275.3" x2="443.56" y2="292.9" stroke="#c0c0c0" stroke-width="0.6"/>
<rect x="442.91" y="282.6" width="1.3" height="1.0" fill="#c9575f"/>
<line x1="445.54" y1="267.8" x2="445.54" y2="291.9" stroke="#c0c0c0" stroke-width="0.6"/>
<rect x="444.89" y="272.6" width="1.3" height="10.9" fill="#6db86d"/>
<line x1="447.51" y1="264.6" x2="447.51" y2="286.7" stroke="#c0c0c0" stroke-width="0.6"/>
<rect x="446.87" y="272.6" width="1.3" height="7.1" fill="#c9575f"/>
<line x1="449.49" y1="274.5" x2="449.49" y2="302.7" stroke="#c0c0c0" stroke-width="0.6"/>
<rect x="448.84" y="279.8" width="1.3" height="18.0" fill="#c9575f"/>
<line x1="451.47" y1="295.1" x2="451.47" y2="317.3" stroke="#c0c0c0" stroke-width="0.6"/>
<rect x="450.82" y="297.8" width="1.3" height="16.1" fill="#c9575f"/>
<line x1="453.45" y1="311.1" x2="453.45" y2="323.1" stroke="#c0c0c0" stroke-width="0.6"/>
<rect x="452.80" y="314.0" width="1.3" height="1.4" fill="#c9575f"/>
<line x1="455.43" y1="311.2" x2="455.43" y2="341.3" stroke="#c0c0c0" stroke-width="0.6"/>
<rect x="454.78" y="315.4" width="1.3" height="22.3" fill="#c9575f"/>
<line x1="457.41" y1="331.9" x2="457.41" y2="346.1" stroke="#c0c0c0" stroke-width="0.6"/>
<rect x="456.76" y="334.9" width="1.3" height="2.8" fill="#6db86d"/>
<line x1="459.39" y1="321.5" x2="459.39" y2="342.0" stroke="#c0c0c0" stroke-width="0.6"/>
<rect x="458.74" y="330.1" width="1.3" height="4.8" fill="#6db86d"/>
<line x1="461.37" y1="317.2" x2="461.37" y2="334.2" stroke="#c0c0c0" stroke-width="0.6"/>
<rect x="460.72" y="321.6" width="1.3" height="8.6" fill="#6db86d"/>
<line x1="463.35" y1="293.8" x2="463.35" y2="327.2" stroke="#c0c0c0" stroke-width="0.6"/>
<rect x="462.70" y="298.3" width="1.3" height="23.3" fill="#6db86d"/>
<line x1="465.33" y1="289.1" x2="465.33" y2="303.9" stroke="#c0c0c0" stroke-width="0.6"/>
<rect x="464.68" y="292.6" width="1.3" height="5.7" fill="#6db86d"/>
<line x1="467.31" y1="276.0" x2="467.31" y2="301.8" stroke="#c0c0c0" stroke-width="0.6"/>
<rect x="466.66" y="292.6" width="1.3" height="1.0" fill="#6db86d"/>
<line x1="469.28" y1="280.9" x2="469.28" y2="298.9" stroke="#c0c0c0" stroke-width="0.6"/>
<rect x="468.63" y="290.2" width="1.3" height="2.4" fill="#6db86d"/>
<line x1="471.26" y1="286.1" x2="471.26" y2="306.6" stroke="#c0c0c0" stroke-width="0.6"/>
<rect x="470.61" y="290.2" width="1.3" height="7.1" fill="#c9575f"/>
<line x1="473.24" y1="292.8" x2="473.24" y2="315.1" stroke="#c0c0c0" stroke-width="0.6"/>
<rect x="472.59" y="297.3" width="1.3" height="12.8" fill="#c9575f"/>
<line x1="475.22" y1="301.6" x2="475.22" y2="315.3" stroke="#c0c0c0" stroke-width="0.6"/>
<rect x="474.57" y="304.0" width="1.3" height="6.2" fill="#6db86d"/>
<line x1="477.20" y1="298.2" x2="477.20" y2="327.1" stroke="#c0c0c0" stroke-width="0.6"/>
<rect x="476.55" y="304.0" width="1.3" height="17.1" fill="#c9575f"/>
<line x1="479.18" y1="317.3" x2="479.18" y2="355.1" stroke="#c0c0c0" stroke-width="0.6"/>
<rect x="478.53" y="321.1" width="1.3" height="28.0" fill="#c9575f"/>
<line x1="481.16" y1="346.7" x2="481.16" y2="375.7" stroke="#c0c0c0" stroke-width="0.6"/>
<rect x="480.51" y="349.1" width="1.3" height="14.7" fill="#c9575f"/>
<line x1="483.14" y1="349.0" x2="483.14" y2="369.1" stroke="#c0c0c0" stroke-width="0.6"/>
<rect x="482.49" y="352.0" width="1.3" height="11.9" fill="#6db86d"/>
<line x1="485.12" y1="349.3" x2="485.12" y2="358.8" stroke="#c0c0c0" stroke-width="0.6"/>
<rect x="484.47" y="352.0" width="1.3" height="4.3" fill="#c9575f"/>
<line x1="487.10" y1="351.7" x2="487.10" y2="370.3" stroke="#c0c0c0" stroke-width="0.6"/>
<rect x="486.45" y="356.2" width="1.3" height="10.0" fill="#c9575f"/>
<line x1="489.07" y1="359.7" x2="489.07" y2="374.3" stroke="#c0c0c0" stroke-width="0.6"/>
<rect x="488.42" y="366.2" width="1.3" height="1.9" fill="#c9575f"/>
<line x1="491.05" y1="353.3" x2="491.05" y2="375.2" stroke="#c0c0c0" stroke-width="0.6"/>
<rect x="490.40" y="361.0" width="1.3" height="7.1" fill="#6db86d"/>
<line x1="493.03" y1="341.6" x2="493.03" y2="369.6" stroke="#c0c0c0" stroke-width="0.6"/>
<rect x="492.38" y="349.1" width="1.3" height="11.9" fill="#6db86d"/>
<line x1="495.01" y1="344.0" x2="495.01" y2="367.1" stroke="#c0c0c0" stroke-width="0.6"/>
<rect x="494.36" y="349.1" width="1.3" height="13.3" fill="#c9575f"/>
<line x1="496.99" y1="353.0" x2="496.99" y2="383.0" stroke="#c0c0c0" stroke-width="0.6"/>
<rect x="496.34" y="362.4" width="1.3" height="17.1" fill="#c9575f"/>
<line x1="498.97" y1="368.2" x2="498.97" y2="386.5" stroke="#c0c0c0" stroke-width="0.6"/>
<rect x="498.32" y="375.7" width="1.3" height="3.8" fill="#6db86d"/>
<line x1="500.95" y1="373.0" x2="500.95" y2="389.0" stroke="#c0c0c0" stroke-width="0.6"/>
<rect x="500.30" y="375.7" width="1.3" height="8.5" fill="#c9575f"/>
<line x1="502.93" y1="371.7" x2="502.93" y2="391.1" stroke="#c0c0c0" stroke-width="0.6"/>
<rect x="502.28" y="380.5" width="1.3" height="3.8" fill="#6db86d"/>
<line x1="504.91" y1="369.1" x2="504.91" y2="388.6" stroke="#c0c0c0" stroke-width="0.6"/>
<rect x="504.26" y="376.7" width="1.3" height="3.8" fill="#6db86d"/>
<line x1="506.88" y1="370.0" x2="506.88" y2="382.8" stroke="#c0c0c0" stroke-width="0.6"/>
<rect x="506.24" y="373.4" width="1.3" height="3.3" fill="#6db86d"/>
<line x1="508.86" y1="367.4" x2="508.86" y2="386.9" stroke="#c0c0c0" stroke-width="0.6"/>
<rect x="508.21" y="373.4" width="1.3" height="5.2" fill="#c9575f"/>
<line x1="510.84" y1="362.4" x2="510.84" y2="386.8" stroke="#c0c0c0" stroke-width="0.6"/>
<rect x="510.19" y="370.5" width="1.3" height="8.1" fill="#6db86d"/>
<line x1="512.82" y1="352.6" x2="512.82" y2="379.2" stroke="#c0c0c0" stroke-width="0.6"/>
<rect x="512.17" y="359.1" width="1.3" height="11.4" fill="#6db86d"/>
<line x1="514.80" y1="351.9" x2="514.80" y2="372.6" stroke="#c0c0c0" stroke-width="0.6"/>
<rect x="514.15" y="359.1" width="1.3" height="6.2" fill="#c9575f"/>
<line x1="516.78" y1="361.3" x2="516.78" y2="368.8" stroke="#c0c0c0" stroke-width="0.6"/>
<rect x="516.13" y="365.3" width="1.3" height="1.0" fill="#c9575f"/>
<line x1="518.76" y1="362.9" x2="518.76" y2="379.2" stroke="#c0c0c0" stroke-width="0.6"/>
<rect x="518.11" y="366.2" width="1.3" height="8.1" fill="#c9575f"/>
<line x1="520.74" y1="349.3" x2="520.74" y2="382.6" stroke="#c0c0c0" stroke-width="0.6"/>
<rect x="520.09" y="352.4" width="1.3" height="21.9" fill="#6db86d"/>
<line x1="522.72" y1="329.0" x2="522.72" y2="359.3" stroke="#c0c0c0" stroke-width="0.6"/>
<rect x="522.07" y="335.4" width="1.3" height="17.1" fill="#6db86d"/>
<line x1="524.70" y1="325.2" x2="524.70" y2="342.6" stroke="#c0c0c0" stroke-width="0.6"/>
<rect x="524.05" y="332.0" width="1.3" height="3.3" fill="#6db86d"/>
<line x1="526.68" y1="317.1" x2="526.68" y2="334.4" stroke="#c0c0c0" stroke-width="0.6"/>
<rect x="526.03" y="323.0" width="1.3" height="9.0" fill="#6db86d"/>
<line x1="528.65" y1="312.6" x2="528.65" y2="337.4" stroke="#c0c0c0" stroke-width="0.6"/>
<rect x="528.00" y="323.0" width="1.3" height="6.6" fill="#c9575f"/>
<line x1="530.63" y1="323.7" x2="530.63" y2="339.2" stroke="#c0c0c0" stroke-width="0.6"/>
<rect x="529.98" y="329.6" width="1.3" height="3.3" fill="#c9575f"/>
<line x1="532.61" y1="317.4" x2="532.61" y2="335.8" stroke="#c0c0c0" stroke-width="0.6"/>
<rect x="531.96" y="324.4" width="1.3" height="8.6" fill="#6db86d"/>
<line x1="534.59" y1="310.7" x2="534.59" y2="328.6" stroke="#c0c0c0" stroke-width="0.6"/>
<rect x="533.94" y="310.7" width="1.3" height="13.8" fill="#6db86d"/>
<line x1="536.57" y1="310.2" x2="536.57" y2="329.2" stroke="#c0c0c0" stroke-width="0.6"/>
<rect x="535.92" y="310.7" width="1.3" height="17.3" fill="#c9575f"/>
<line x1="64.5" y1="196.5" x2="66.6" y2="72.3" stroke="#1a1af0" stroke-width="1.7"/>
<polygon points="66.7,66.8 69.5,72.3 63.8,72.3" fill="#1a1af0"/>
<line x1="174.0" y1="260.0" x2="175.7" y2="135.1" stroke="#1a1af0" stroke-width="1.7"/>
<polygon points="175.8,129.6 178.6,135.1 172.9,135.1" fill="#1a1af0"/>
<line x1="560.9" y1="390.3" x2="560.9" y2="264.8" stroke="#1a1af0" stroke-width="1.7"/>
<polygon points="560.9,259.3 563.8,264.8 558.0,264.8" fill="#1a1af0"/>
<line x1="371.5" y1="388.5" x2="487.0" y2="388.5" stroke="#1a1af0" stroke-width="1.0"/>
<polygon points="492.0,388.5 487.0,391.1 487.0,385.9" fill="#1a1af0"/>
<line x1="110.6" y1="201.0" x2="110.6" y2="127.5" stroke="#f9a21a" stroke-width="1.1"/>
<polygon points="110.6,122.0 113.3,127.5 107.8,127.5" fill="#f9a21a"/>
<line x1="286.4" y1="310.0" x2="286.4" y2="238.0" stroke="#f9a21a" stroke-width="1.1"/>
<polygon points="286.4,232.5 289.1,238.0 283.6,238.0" fill="#f9a21a"/>
<line x1="356.7" y1="277.8" x2="356.7" y2="205.5" stroke="#f9a21a" stroke-width="1.1"/>
<polygon points="356.7,200.0 359.4,205.5 353.9,205.5" fill="#f9a21a"/>
<line x1="500.8" y1="388.4" x2="500.8" y2="316.0" stroke="#f9a21a" stroke-width="1.1"/>
<polygon points="500.8,310.5 503.6,316.0 498.1,316.0" fill="#f9a21a"/>
<line x1="118.1" y1="118.8" x2="129.2" y2="165.6" stroke="#e02020" stroke-width="1.2"/>
<polygon points="130.4,170.5 126.9,166.2 131.6,165.1" fill="#e02020"/>
<line x1="287.3" y1="233.8" x2="299.3" y2="279.2" stroke="#e02020" stroke-width="1.2"/>
<polygon points="300.6,284.0 297.0,279.8 301.6,278.6" fill="#e02020"/>
<line x1="356.7" y1="203.0" x2="367.8" y2="245.3" stroke="#e02020" stroke-width="1.2"/>
<polygon points="369.1,250.1 365.5,245.9 370.1,244.7" fill="#e02020"/>
<line x1="534.7" y1="311.5" x2="545.8" y2="355.0" stroke="#e02020" stroke-width="1.2"/>
<polygon points="547.0,359.8 543.4,355.5 548.1,354.4" fill="#e02020"/>
<line x1="535.2" y1="313.5" x2="545.6" y2="354.5" stroke="#3a3a90" stroke-width="0.9" opacity="0.8"/>
<polyline points="514.5,281.2 540,284.7 536,285.7 520.5,282.9" fill="none" stroke="#55b0f5" stroke-width="0.5"/>
<text x="53" y="63.2" font-family="Liberation Sans, Arial, sans-serif" font-weight="bold" font-size="13" fill="#149a10" textLength="45.8" lengthAdjust="spacingAndGlyphs">11/1994</text>
<text x="349.3" y="91.3" font-family="Liberation Sans, Arial, sans-serif" font-weight="bold" font-size="13" fill="#149a10" textLength="166.3" lengthAdjust="spacingAndGlyphs">10 YEAR TREASURY YIELD</text>
<text x="382.3" y="106.2" font-family="Liberation Sans, Arial, sans-serif" font-weight="bold" font-size="13" fill="#149a10" textLength="110" lengthAdjust="spacingAndGlyphs">MONTHLY CHART</text>
<text x="405.4" y="121.5" font-family="Liberation Sans, Arial, sans-serif" font-weight="bold" font-size="13" fill="#149a10" textLength="62" lengthAdjust="spacingAndGlyphs">1995-2014</text>
<text x="535.5" y="256" font-family="Liberation Sans, Arial, sans-serif" font-weight="bold" font-size="13" fill="#149a10">4.14%</text>
<text x="473.8" y="285.8" font-family="Liberation Sans, Arial, sans-serif" font-weight="bold" font-size="13" fill="#149a10" textLength="39.5" lengthAdjust="spacingAndGlyphs">3-3.5%</text>
<text x="525" y="372.8" font-family="Liberation Sans, Arial, sans-serif" font-weight="bold" font-size="13" fill="#149a10" textLength="32.7" lengthAdjust="spacingAndGlyphs">2.025</text>
<text x="416" y="385.9" font-family="Liberation Sans, Arial, sans-serif" font-weight="bold" font-size="13" fill="#149a10">1.4</text>
<text x="187.8" y="391.3" font-family="Liberation Sans, Arial, sans-serif" font-weight="bold" font-size="13" fill="#149a10" textLength="180.9" lengthAdjust="spacingAndGlyphs">major low in 10 year yield (?)</text>
<text x="4" y="36" font-family="Liberation Sans, Arial, sans-serif" font-size="4.4" fill="#c4c4c4" textLength="150.5" lengthAdjust="spacingAndGlyphs">$TNX, TREASURY YIELD 10 YEARS, M, 00:00-00:00 (Dynamic) (delayed 15)</text>
<text x="4" y="406" font-family="Liberation Sans, Arial, sans-serif" font-size="3.8" font-weight="normal" fill="#999" text-anchor="start">© eSignal, 2014</text>
<text x="622.2" y="53.4" font-family="Liberation Sans, Arial, sans-serif" font-size="4.7" font-weight="normal" fill="#b0b0b0" text-anchor="start">8.500</text>
<text x="622.2" y="77.14999999999999" font-family="Liberation Sans, Arial, sans-serif" font-size="4.7" font-weight="normal" fill="#b0b0b0" text-anchor="start">8.000</text>
<text x="622.2" y="100.89999999999999" font-family="Liberation Sans, Arial, sans-serif" font-size="4.7" font-weight="normal" fill="#b0b0b0" text-anchor="start">7.500</text>
<text x="622.2" y="124.64999999999999" font-family="Liberation Sans, Arial, sans-serif" font-size="4.7" font-weight="normal" fill="#b0b0b0" text-anchor="start">7.000</text>
<text x="622.2" y="148.4" font-family="Liberation Sans, Arial, sans-serif" font-size="4.7" font-weight="normal" fill="#b0b0b0" text-anchor="start">6.500</text>
<text x="622.2" y="172.15" font-family="Liberation Sans, Arial, sans-serif" font-size="4.7" font-weight="normal" fill="#b0b0b0" text-anchor="start">6.000</text>
<text x="622.2" y="195.9" font-family="Liberation Sans, Arial, sans-serif" font-size="4.7" font-weight="normal" fill="#b0b0b0" text-anchor="start">5.500</text>
<text x="622.2" y="219.65" font-family="Liberation Sans, Arial, sans-serif" font-size="4.7" font-weight="normal" fill="#b0b0b0" text-anchor="start">5.000</text>
<text x="622.2" y="243.4" font-family="Liberation Sans, Arial, sans-serif" font-size="4.7" font-weight="normal" fill="#b0b0b0" text-anchor="start">4.500</text>
<text x="622.2" y="267.15000000000003" font-family="Liberation Sans, Arial, sans-serif" font-size="4.7" font-weight="normal" fill="#b0b0b0" text-anchor="start">4.000</text>
<text x="622.2" y="290.90000000000003" font-family="Liberation Sans, Arial, sans-serif" font-size="4.7" font-weight="normal" fill="#b0b0b0" text-anchor="start">3.500</text>
<text x="622.2" y="314.65000000000003" font-family="Liberation Sans, Arial, sans-serif" font-size="4.7" font-weight="normal" fill="#b0b0b0" text-anchor="start">3.000</text>
<text x="622.2" y="338.40000000000003" font-family="Liberation Sans, Arial, sans-serif" font-size="4.7" font-weight="normal" fill="#b0b0b0" text-anchor="start">2.500</text>
<text x="622.2" y="362.15000000000003" font-family="Liberation Sans, Arial, sans-serif" font-size="4.7" font-weight="normal" fill="#b0b0b0" text-anchor="start">2.000</text>
<text x="622.2" y="385.90000000000003" font-family="Liberation Sans, Arial, sans-serif" font-size="4.7" font-weight="normal" fill="#b0b0b0" text-anchor="start">1.500</text>
<text x="622.2" y="409.65000000000003" font-family="Liberation Sans, Arial, sans-serif" font-size="4.7" font-weight="normal" fill="#b0b0b0" text-anchor="start">1.000</text>
<rect x="620.6" y="408.3" width="16.4" height="8" fill="#000"/>
<path d="M620.3 37.2 L623 34.6 L637 34.6 L637 39.8 L623 39.8 Z" fill="#8a8a8a"/>
<text x="623.4" y="38.9" font-family="Liberation Sans, Arial, sans-serif" font-size="4.5" font-weight="normal" fill="#fff" text-anchor="start">8.768</text>
<rect x="620.5" y="325.5" width="15" height="5" fill="#e01010"/>
<text x="622.2" y="329.8875" font-family="Liberation Sans, Arial, sans-serif" font-size="4.7" font-weight="normal" fill="#fff" text-anchor="start">2.675</text>
<text x="2.5" y="414.3" font-family="Liberation Sans, Arial, sans-serif" font-size="4.8" font-weight="normal" fill="#ccc" text-anchor="start">Dyn</text>
<rect x="12.8" y="409.8" width="5.2" height="6" fill="#2a2a2a" stroke="#999" stroke-width="0.6"/><path d="M14.4 411.2 h2 M14.4 412.8 h2 M14.4 414.4 h2" stroke="#ddd" stroke-width="0.5"/>
<rect x="75" y="410" width="23.5" height="5.6" fill="#8a8a8a"/>
<text x="86.7" y="414.6" font-family="Liberation Sans, Arial, sans-serif" font-size="4.4" font-weight="normal" fill="#fff" text-anchor="middle">02/01/1995</text>
<text x="203" y="414.6" font-family="Liberation Sans, Arial, sans-serif" font-size="4.4" font-weight="normal" fill="#bbb" text-anchor="middle">2000</text>
<text x="322.5" y="414.6" font-family="Liberation Sans, Arial, sans-serif" font-size="4.4" font-weight="normal" fill="#bbb" text-anchor="middle">2005</text>
<text x="441" y="414.6" font-family="Liberation Sans, Arial, sans-serif" font-size="4.4" font-weight="normal" fill="#bbb" text-anchor="middle">2010</text>
<rect x="4.4" y="5.6" width="0.7" height="5.6" fill="#aaa"/><rect x="7.5" y="5.6" width="0.7" height="5.6" fill="#aaa"/><rect x="4" y="11" width="4.8" height="0.6" fill="#888"/>
<text x="12" y="10.6" font-family="Liberation Sans, Arial, sans-serif" font-size="5.4" font-weight="bold" fill="#a8a8a8" text-anchor="start">Chart</text>
<rect x="34.5" y="4.6" width="33" height="8" fill="#050505" stroke="#666" stroke-width="0.6"/>
<text x="36.5" y="10.6" font-family="Liberation Sans, Arial, sans-serif" font-size="4.8" font-weight="normal" fill="#a0a0a0" text-anchor="start">$TNX</text>
<rect x="57.5" y="5.2" width="1.6" height="2" fill="#3a8ee0"/>
<polygon points="62.8,8 65.6,8 64.2,9.6" fill="#ddd"/>
<rect x="68.7" y="4.2" width="8.8" height="8.8" fill="#1c1c1c" stroke="#4a4a4a" stroke-width="0.5"/>
<circle cx="73" cy="8.6" r="3.1" fill="none" stroke="#e4e4e4" stroke-width="1.1"/>
<circle cx="73" cy="8.6" r="1" fill="#ddd"/>
<rect x="80" y="4.6" width="29" height="8" fill="#050505" stroke="#666" stroke-width="0.6"/>
<text x="82" y="10.6" font-family="Liberation Sans, Arial, sans-serif" font-size="4.8" font-weight="normal" fill="#c0c0c0" text-anchor="start">M</text>
<polygon points="104.8,8 107.6,8 106.2,9.6" fill="#ddd"/>
<rect x="110.2" y="4.2" width="9" height="8.8" fill="#1a1a1a" stroke="#555" stroke-width="0.5"/>
<circle cx="114.7" cy="8.6" r="3.1" fill="none" stroke="#e4e4e4" stroke-width="1.1"/>
<path d="M114.7 6.6 V8.8 L116 10" stroke="#ddd" stroke-width="0.7" fill="none"/>
<rect x="122" y="4.2" width="9.6" height="8.8" fill="#4a4a4a" stroke="#666" stroke-width="0.5"/>
<path d="M124.5 11.2 L125.2 9.3 L128.6 5.9 L129.8 7.1 L126.4 10.5 Z" fill="none" stroke="#eee" stroke-width="0.8"/>
<circle cx="138.6" cy="8.4" r="3.0" fill="none" stroke="#ddd" stroke-width="0.9"/>
<circle cx="150.6" cy="8.4" r="3.0" fill="none" stroke="#ddd" stroke-width="0.9"/>
<circle cx="162.2" cy="8.4" r="3.0" fill="none" stroke="#ddd" stroke-width="0.9"/>
<path d="M137 8.6 H140" stroke="#ddd" stroke-width="0.8"/>
<circle cx="150.6" cy="8.4" r="0.9" fill="#ddd"/>
<circle cx="162.2" cy="8.4" r="1.2" fill="none" stroke="#ddd" stroke-width="0.6"/>
<path d="M171.8 9.8 L175.2 7" stroke="#ddd" stroke-width="2.3" stroke-linecap="round"/><path d="M172 9.6 L175 7.2" stroke="#333" stroke-width="0.8" stroke-linecap="round"/>
<rect x="619.5" y="2.6" width="5.4" height="5" fill="#555" stroke="#888" stroke-width="0.5"/><rect x="621" y="3.8" width="2.6" height="2.6" fill="none" stroke="#ddd" stroke-width="0.5"/>
<rect x="626.3" y="2.6" width="8.4" height="5" fill="#c23b3b" stroke="#888" stroke-width="0.4"/><path d="M629 3.6 L632 6.8 M632 3.6 L629 6.8" stroke="#222" stroke-width="0.9"/>
<rect x="626.6" y="17.6" width="7.4" height="7.4" fill="#1c1c1c" stroke="#444" stroke-width="0.5"/><path d="M628.6 20 h2 v3 h2" stroke="#aaa" stroke-width="0.8" fill="none"/>
<path d="M6.0 23.5 L11.0 18.5" stroke="#8c8c8c" stroke-width="0.8" fill="none"/>
<polygon points="15.6,24.3 17.8,24.3 16.7,25.6" fill="#b0b0b0"/>
<path d="M19.5 20.8 H24.5" stroke="#8c8c8c" stroke-width="1.0" fill="none"/>
<polygon points="26.6,24.3 28.8,24.3 27.7,25.6" fill="#b0b0b0"/>
<path d="M35 18.0 V24.0" stroke="#8c8c8c" stroke-width="1.0" fill="none"/>
<polygon points="39.6,24.3 41.8,24.3 40.7,25.6" fill="#b0b0b0"/>
<path d="M46 20.5 L47.5 23.5 L49.5 19.5 L50.5 22.5 L52.5 18.0" stroke="#8c8c8c" stroke-width="0.8" fill="none"/>
<polygon points="54.1,24.3 56.3,24.3 55.2,25.6" fill="#b0b0b0"/>
<path d="M60.0 24.0 L61.5 18.5 M60.0 24.0 L65.5 23.0 M60.0 24.0 L64.0 20.5" stroke="#8c8c8c" stroke-width="0.8" fill="none"/>
<polygon points="67.1,24.3 69.3,24.3 68.2,25.6" fill="#b0b0b0"/>
<path d="M73 23.5 L78.5 18.5 M74 19.5 L78 23.0 M75 21.0 h2.5" stroke="#8c8c8c" stroke-width="0.8" fill="none"/>
<polygon points="80.6,24.3 82.8,24.3 81.7,25.6" fill="#b0b0b0"/>
<path d="M86.5 24.0 L92.0 18.5 M86.5 19.0 L92.5 24.0 M86.5 21.5 H92.5 M88.5 18.5 L90.5 24.5" stroke="#8c8c8c" stroke-width="0.8" fill="none"/>
<polygon points="94.1,24.3 96.3,24.3 95.2,25.6" fill="#b0b0b0"/>
<ellipse cx="103" cy="21.3" rx="2.7" ry="1.6" fill="none" stroke="#8c8c8c" stroke-width="0.9"/>
<polygon points="107.6,24.3 109.8,24.3 108.7,25.6" fill="#b0b0b0"/>
<rect x="114.5" y="18.7" width="5" height="4.6" fill="none" stroke="#8c8c8c" stroke-width="0.8"/>
<polygon points="121.6,24.3 123.8,24.3 122.7,25.6" fill="#b0b0b0"/>
<rect x="127.9" y="19.6" width="5.2" height="3" fill="none" stroke="#8c8c8c" stroke-width="0.8" transform="rotate(-45 130.5 21.1)"/>
<polygon points="135.1,24.3 137.3,24.3 136.2,25.6" fill="#b0b0b0"/>
<path d="M141 23.5 L144.3 18.5 L146.8 22.9 Z" stroke="#8c8c8c" stroke-width="0.8" fill="none"/>
<polygon points="148.6,24.3 150.8,24.3 149.7,25.6" fill="#b0b0b0"/>
<path d="M154.2 23.0 L156.5 19.3 L160.8 18.5 L158.5 22.2 Z" stroke="#8c8c8c" stroke-width="0.8" fill="#777"/>
<polygon points="162.1,24.3 164.3,24.3 163.2,25.6" fill="#b0b0b0"/>
<rect x="166" y="17" width="0.6" height="9" fill="#555"/>
<path d="M169.5 24.0 L173.5 18.0 M172.0 24.0 L176.0 18.0" stroke="#8c8c8c" stroke-width="0.9" fill="none"/>
<polygon points="177.1,24.3 179.3,24.3 178.2,25.6" fill="#b0b0b0"/>
<circle cx="186" cy="21.2" r="3.1" fill="none" stroke="#8c8c8c" stroke-width="0.8"/>
<circle cx="186" cy="21.2" r="1.5" fill="none" stroke="#8c8c8c" stroke-width="0.8"/>
<polygon points="190.6,24.3 192.8,24.3 191.7,25.6" fill="#b0b0b0"/>
<path d="M197.0 18.9 h5.6 M197.0 21.0 h5.6 M197.0 23.1 h5.6" stroke="#8c8c8c" stroke-width="0.9" fill="none"/>
<polygon points="204.4,24.3 206.60000000000002,24.3 205.5,25.6" fill="#b0b0b0"/>
<path d="M210.5 18.5 h5.6 M210.5 19.9 h5.6 M210.5 21.3 h5.6" stroke="#8c8c8c" stroke-width="1.0" fill="none"/>
<path d="M210.5 23.0 h5.6" stroke="#777" stroke-width="0.6" fill="none"/>
<polygon points="217.9,24.3 220.10000000000002,24.3 219.0,25.6" fill="#b0b0b0"/>
<path d="M224.4 18.5 v5.6 M226.7 18.5 v5.6 M229 18.5 v5.6" stroke="#8c8c8c" stroke-width="1.0" fill="none"/>
<polygon points="231.6,24.3 233.8,24.3 232.7,25.6" fill="#b0b0b0"/>
<rect x="236.2" y="17" width="0.6" height="9" fill="#555"/>
<path d="M240.2 18.7 h5.6 M243 18.7 v5.4" stroke="#c8c8c8" stroke-width="1.3" fill="none"/>
<polygon points="247.6,24.3 249.8,24.3 248.7,25.6" fill="#b0b0b0"/>
<path d="M256.5 17.9 L259.1 20.7 H257.5 V23.7 H255.5 V20.7 H253.9 Z" stroke="#c0c0c0" stroke-width="0.8" fill="none"/>
<polygon points="261.1,24.3 263.3,24.3 262.2,25.6" fill="#b0b0b0"/>
<path d="M270 24.1 L272.6 21.3 H271 V18.3 H269 V21.3 H267.4 Z" stroke="#c0c0c0" stroke-width="0.8" fill="#888"/>
<polygon points="274.6,24.3 276.8,24.3 275.7,25.6" fill="#b0b0b0"/>
<rect x="279.7" y="17" width="0.6" height="9" fill="#555"/>
<path d="M282.7 18.3 V23.9 H288.5 M282.7 23.9 L288.3 18.7 M282.7 23.9 L288.5 21.5" stroke="#5c5c5c" stroke-width="0.8" fill="none"/>
<polygon points="290.1,24.3 292.3,24.3 291.2,25.6" fill="#b0b0b0"/>
<path d="M302 21.1 H296 L299 18.3 M296 21.1 L299 23.9" stroke="#5c5c5c" stroke-width="0.8" fill="none"/>
<polygon points="303.6,24.3 305.8,24.3 304.7,25.6" fill="#b0b0b0"/>
<rect x="309.5" y="18.3" width="6" height="5.6" fill="#111" stroke="#5c5c5c" stroke-width="0.7"/>
<path d="M311.5 18.3 v5.6 M313.5 18.3 v5.6 M309.5 20.2 h6 M309.5 22.0 h6" stroke="#5c5c5c" stroke-width="0.5" fill="none"/>
<polygon points="317.1,24.3 319.3,24.3 318.2,25.6" fill="#b0b0b0"/>
<path d="M323 18.5 h6 M323 20.5 h6 M323 23.0 h6" stroke="#5c5c5c" stroke-width="0.8" fill="none"/>
<polygon points="330.6,24.3 332.8,24.3 331.7,25.6" fill="#b0b0b0"/>
<ellipse cx="339.5" cy="21.2" rx="3.2" ry="1.9" fill="#0a0a0a" stroke="#5c5c5c" stroke-width="0.9"/>
<polygon points="344.1,24.3 346.3,24.3 345.2,25.6" fill="#b0b0b0"/>
<path d="M350 23.3 h6.4" stroke="#5c5c5c" stroke-width="0.8" fill="none"/>
<text x="350" y="22.0" font-family="Liberation Sans, Arial, sans-serif" font-size="4.2" font-weight="normal" fill="#5c5c5c" text-anchor="start">PT</text>
<polygon points="357.6,24.3 359.8,24.3 358.7,25.6" fill="#b0b0b0"/>
<rect x="362.3" y="17" width="0.6" height="9" fill="#555"/>
<path d="M366 18.5 L368 22.5 L370 21.0 L372 23.5" stroke="#5c5c5c" stroke-width="0.8" fill="none"/>
<polygon points="373.6,24.3 375.8,24.3 374.7,25.6" fill="#b0b0b0"/>
<path d="M379 23.0 L381 19.3 L385.3 18.9 L383.2 22.7 Z" stroke="#ccc" stroke-width="0.8" fill="none"/>
<rect x="389" y="17" width="0.6" height="9" fill="#555"/>
<rect x="392.5" y="18.5" width="6.2" height="4.2" rx="1" fill="#eee"/><polygon points="393.5,22.5 392.9,24.5 395.5,22.5" fill="#eee"/><path d="M393.9 19.9 h3.4 M393.9 21.3 h3.4" stroke="#333" stroke-width="0.5"/>
<rect x="404" y="16.6" width="9.4" height="9.6" fill="#000" stroke="#777" stroke-width="0.6"/>
<text x="408.7" y="24.2" font-family="Liberation Sans, Arial, sans-serif" font-size="7.4" font-weight="bold" fill="#fff" text-anchor="middle">U</text>
</svg>
</body></html>
